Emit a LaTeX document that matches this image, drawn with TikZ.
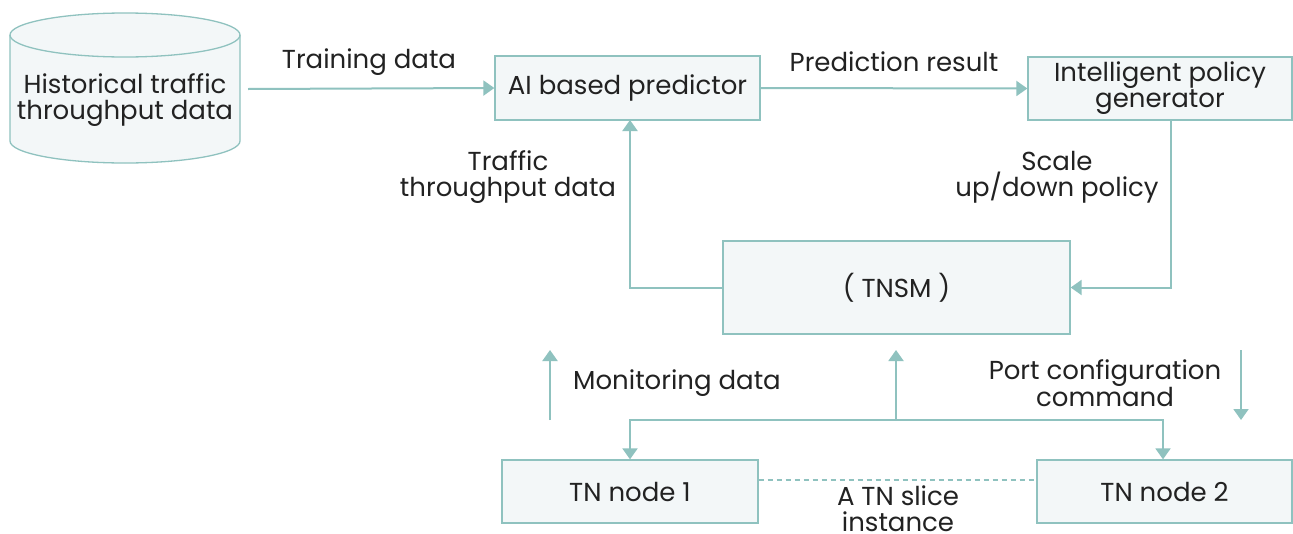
\documentclass[tikz,border=0pt]{standalone}
\usepackage{fontspec}
\setmainfont{Poppins}
\usetikzlibrary{arrows.meta,shapes.geometric}
\definecolor{lc}{HTML}{8FC2BF}
\definecolor{fc}{HTML}{F3F7F8}
\definecolor{tc}{HTML}{222222}
\newcommand{\fs}{\fontsize{26}{26}\selectfont}
\begin{document}
\begin{tikzpicture}[x=1pt,y=-1pt,
  box/.style={draw=lc,fill=fc,line width=1.3pt,text=tc,align=center,inner sep=0pt,font=\fs},
  conn/.style={draw=lc,line width=2pt,-{Triangle[length=11pt,width=15pt]}},
  plain/.style={draw=lc,line width=2pt},
  lbl/.style={text=tc,align=center,font=\fs,inner sep=0pt}]
\useasboundingbox (0,0) rectangle (1293,533);
\fill[white] (0,0) rectangle (1293,533);
% cylinder
\begin{scope}[draw=lc,line width=1.3pt]
\fill[fc] (10,35) -- (10,141) arc[start angle=180,end angle=360,x radius=115,y radius=-22] -- (240,35) arc[start angle=0,end angle=180,x radius=115,y radius=-22] -- cycle;
\draw (10,35) -- (10,141) arc[start angle=180,end angle=360,x radius=115,y radius=-22] -- (240,35);
\draw (125,35) ellipse[x radius=115,y radius=22];
\end{scope}
\node[lbl] (hist) at (125,100) {Historical traffic\\throughput data};
\coordinate (histR) at (248,89);
\node[box,minimum width=265pt,minimum height=64pt] (ai) at (627.5,88) {AI based predictor};
\node[box,minimum width=264pt,minimum height=63pt] (ipg) at (1160,88.5) {Intelligent policy\\generator};
\node[box,minimum width=347pt,minimum height=93pt] (tnsm) at (896.5,287.5) {( TNSM )};
\node[box,minimum width=256pt,minimum height=63pt] (tn1) at (630,491.5) {TN node 1};
\node[box,minimum width=255pt,minimum height=63pt] (tn2) at (1164.5,491.5) {TN node 2};
% connectors
\draw[conn] (histR) -- (ai.west);
\node[lbl] at (369,62) {Training data};
\draw[conn] (ai.east) -- (ipg.west);
\node[lbl] at (894,62) {Prediction result};
\draw[conn] (ipg.south -| 1171,0) |- (tnsm.east);
\node[lbl] at (1057,177) {Scale\\up/down policy};
\draw[conn] (tnsm.west) -| (630,120);
\node[lbl] at (508,177) {Traffic\\throughput data};
% lower arrows
\coordinate (m0) at (550,420); \coordinate (m1) at (550,350);
\draw[conn] (m0) -- (m1);
\node[lbl,anchor=west] at (573,383) {Monitoring data};
\coordinate (c0) at (896,420); \coordinate (c1) at (896,350);
\draw[conn] (c0) -- (c1);
\draw[plain] (630,420) -- (1163,420);
\draw[conn] (630,419) -- (tn1.north -| 630,0);
\draw[conn] (1163,419) -- (tn2.north -| 1163,0);
\coordinate (p0) at (1241,350); \coordinate (p1) at (1241,420);
\draw[conn] (p0) -- (p1);
\node[lbl] at (1105,383) {Port configuration\\command};
\draw[draw=lc,line width=1.3pt,dashed,dash pattern=on 5pt off 4pt] (tn1.east |- 0,480) -- (tn2.west |- 0,480);
\node[lbl] at (898,509) {A TN slice\\instance};
\end{tikzpicture}
\end{document}
